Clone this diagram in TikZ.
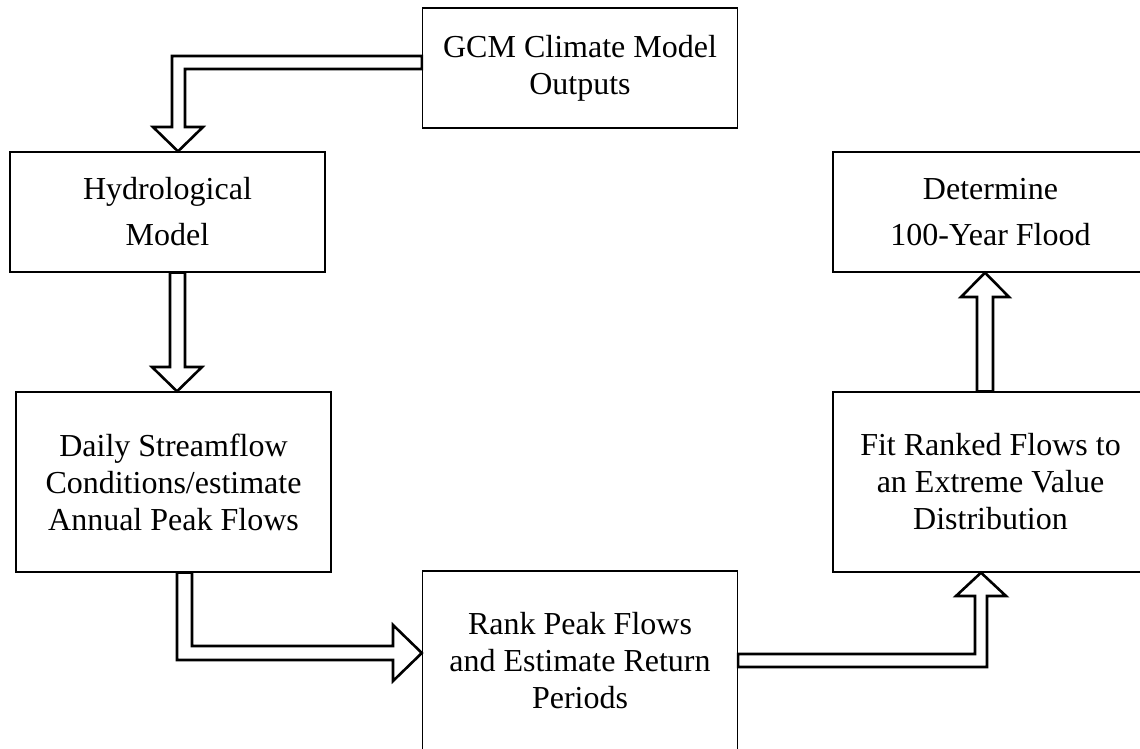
\documentclass[tikz,border=0pt]{standalone}
\usepackage{fontspec}
\setmainfont{Liberation Serif}
\begin{document}
\begin{tikzpicture}[x=0.5pt,y=-0.5pt,
  box/.style={draw=black, line width=0.65pt, inner sep=0pt, align=center,
    minimum width=157.5pt, font=\fontsize{16}{18.5}\selectfont},
  shortbox/.style={box, minimum height=60pt},
  tallbox/.style={box, minimum height=90pt},
  wide/.style={font=\fontsize{16}{23}\selectfont},
  dbl/.style={draw=black, fill=white, line width=1.3pt, line join=miter}]
\useasboundingbox (0,0) rectangle (1140,749);

\node[shortbox] (gcm) at (580,68) {GCM Climate Model\\Outputs};
\node[shortbox, wide] (hyd) at (167.5,212) {Hydrological\\Model};
\node[tallbox] (daily) at (173.5,482) {Daily Streamflow\\Conditions/estimate\\Annual Peak Flows};
\node[tallbox] (rank) at (580,661) {Rank Peak Flows\\and Estimate Return\\Periods};
\node[tallbox] (fit) at (990.5,482) {Fit Ranked Flows to\\an Extreme Value\\Distribution};
\node[shortbox, wide] (det) at (990.5,212) {Determine\\100-Year Flood};

% GCM -> Hydrological
\draw[dbl] (gcm.west |- 0,56) -- (172,56) -- (172,127) -- (153,127)
  -- (178,0 |- hyd.north) -- (203,127) -- (185,127) -- (185,69)
  -- (gcm.west |- 0,69) -- cycle;
% Hydrological -> Daily
\draw[dbl] (170,0 |- hyd.south) -- (170,367) -- (152,367)
  -- (177,0 |- daily.north) -- (202,367) -- (185,367)
  -- (185,0 |- hyd.south) -- cycle;
% Daily -> Rank
\draw[dbl] (177,0 |- daily.south) -- (177,660) -- (393,660) -- (393,681)
  -- (rank.west |- 0,653) -- (393,625) -- (393,646) -- (192,646)
  -- (192,0 |- daily.south) -- cycle;
% Rank -> Fit
\draw[dbl] (rank.east |- 0,654) -- (975,654) -- (975,596) -- (956,596)
  -- (981,0 |- fit.south) -- (1006,596) -- (987,596) -- (987,667)
  -- (rank.east |- 0,667) -- cycle;
% Fit -> Determine
\draw[dbl] (977,0 |- fit.north) -- (977,297) -- (961,297)
  -- (985,0 |- det.south) -- (1009,297) -- (993,297)
  -- (993,0 |- fit.north) -- cycle;
\end{tikzpicture}
\end{document}
